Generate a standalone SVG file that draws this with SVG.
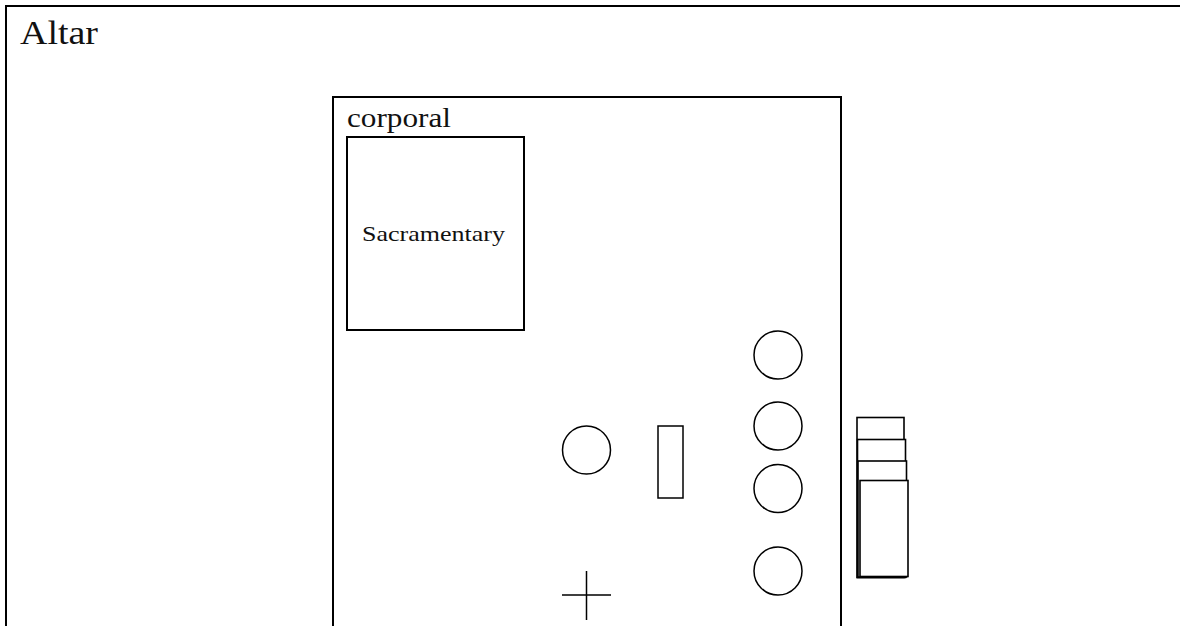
<svg xmlns="http://www.w3.org/2000/svg" width="1180" height="626" viewBox="0 0 1180 626">
<style>
.ln{fill:none;stroke:#000;stroke-width:2}
.sh{fill:#fff;stroke:#000;stroke-width:1.6}
.thin{fill:none;stroke:#000;stroke-width:1.5}
.t{font-family:"Liberation Serif","DejaVu Serif",serif;fill:#111}
</style>
<rect width="1180" height="626" fill="#fff"/>
<g id="altar">
<path class="ln" d="M6,630 V6 H1185"/>
<text class="t" x="20" y="44" font-size="34" textLength="78" lengthAdjust="spacingAndGlyphs">Altar</text>
</g>
<g id="corporal">
<path class="ln" d="M333,630 V97 H841 V630"/>
<text class="t" x="347" y="127" font-size="27" textLength="104" lengthAdjust="spacingAndGlyphs">corporal</text>
</g>
<g id="sacramentary">
<rect class="ln" x="347" y="137" width="177" height="193"/>
<text class="t" x="362" y="241" font-size="21" textLength="143" lengthAdjust="spacingAndGlyphs">Sacramentary</text>
</g>
<g id="vessel-left">
<circle class="thin" cx="586.5" cy="450" r="24"/>
</g>
<g id="bar">
<rect class="thin" x="658" y="426" width="25" height="72"/>
</g>
<g id="circle-1"><circle class="thin" cx="778" cy="355" r="24"/></g>
<g id="circle-2"><circle class="thin" cx="778" cy="426" r="24"/></g>
<g id="circle-3"><circle class="thin" cx="778" cy="488.5" r="24"/></g>
<g id="circle-4"><circle class="thin" cx="778" cy="571" r="24"/></g>
<g id="cross">
<path class="thin" d="M562,595 H611 M586.5,571 V620"/>
</g>
<g id="stack">
<rect class="sh" x="857" y="417.5" width="47" height="160"/>
<rect class="sh" x="857.5" y="439.5" width="48" height="138"/>
<rect class="sh" x="858" y="461" width="48.5" height="116"/>
<rect class="sh" x="860" y="480.5" width="48" height="96"/>
</g>
<g id="connectors"></g>
</svg>
